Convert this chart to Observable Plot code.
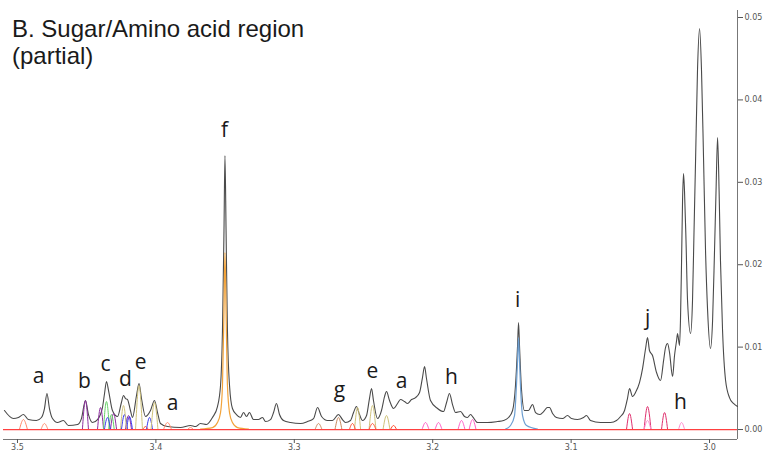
<!DOCTYPE html>
<html>
<head>
<meta charset="utf-8">
<script src="https://cdn.jsdelivr.net/npm/d3@7"></script>
<script src="https://cdn.jsdelivr.net/npm/@observablehq/plot@0.6"></script>
<style>
  html, body { margin: 0; padding: 0; background: #fff; overflow: hidden; }
  #wrap { position: relative; width: 764px; height: 455px; }
  .ttl { position: absolute; left: 12px; font-family: "Liberation Sans", Arial, sans-serif; font-size: 24px; line-height: 24px; color: #1a1a1a; white-space: nowrap; }
</style>
</head>
<body>
<div id="wrap">
  <div id="chart"></div>
  <div class="ttl" style="top:17px">B. Sugar/Amino acid region</div>
  <div class="ttl" style="top:44px">(partial)</div>
</div>
<script>
// chemical shift (ppm) and intensity of the measured spectrum
const specPpm = [3.5094,3.5029,3.4993,3.4957,3.4921,3.4863,3.4827,3.4805,3.4787,3.4769,3.4747,3.4711,3.4668,3.4632,3.4566,3.4538,3.4509,3.4487,3.4458,3.4422,3.4386,3.4371,3.4357,3.4342,3.4314,3.4277,3.4249,3.4234,3.4220,3.4205,3.4184,3.4169,3.4140,3.4122,3.4104,3.4075,3.4039,3.4010,3.3988,3.3967,3.3916,3.3822,3.3750,3.3714,3.3678,3.3634,3.3591,3.3555,3.3533,3.3519,3.3508,3.3501,3.3493,3.3483,3.3468,3.3447,3.3418,3.3389,3.3367,3.3345,3.3324,3.3295,3.3259,3.3230,3.3208,3.3172,3.3150,3.3129,3.3107,3.3078,3.3027,3.2955,3.2905,3.2861,3.2832,3.2803,3.2760,3.2724,3.2681,3.2652,3.2630,3.2594,3.2572,3.2551,3.2529,3.2507,3.2478,3.2457,3.2442,3.2428,3.2399,3.2370,3.2348,3.2334,3.2312,3.2283,3.2254,3.2233,3.2204,3.2182,3.2153,3.2124,3.2095,3.2074,3.2059,3.2045,3.2016,3.1965,3.1922,3.1900,3.1879,3.1857,3.1835,3.1799,3.1770,3.1749,3.1727,3.1712,3.1676,3.1604,3.1532,3.1488,3.1452,3.1423,3.1402,3.1387,3.1380,3.1373,3.1358,3.1337,3.1308,3.1279,3.1257,3.1228,3.1199,3.1171,3.1156,3.1134,3.1106,3.1062,3.1026,3.0997,3.0954,3.0910,3.0889,3.0860,3.0788,3.0715,3.0672,3.0643,3.0614,3.0593,3.0578,3.0556,3.0535,3.0506,3.0484,3.0462,3.0448,3.0434,3.0412,3.0383,3.0354,3.0332,3.0318,3.0303,3.0289,3.0267,3.0253,3.0238,3.0231,3.0217,3.0210,3.0202,3.0195,3.0188,3.0181,3.0170,3.0159,3.0137,3.0123,3.0112,3.0101,3.0087,3.0072,3.0058,3.0043,3.0029,3.0014,2.9993,2.9978,2.9964,2.9953,2.9942,2.9931,2.9921,2.9906,2.9884,2.9856,2.9827,2.9798];
const specIntensity = [0.00231,0.00133,0.00146,0.00182,0.00121,0.00109,0.00146,0.00255,0.00437,0.00255,0.00133,0.00085,0.00109,0.00049,0.00061,0.00133,0.00352,0.00182,0.00085,0.00121,0.00267,0.00437,0.00583,0.00473,0.00231,0.00158,0.00328,0.00413,0.00376,0.00364,0.00231,0.00146,0.00413,0.00558,0.00376,0.00158,0.00231,0.00352,0.00206,0.00073,0.00036,0.00024,0.00049,0.00036,0.00073,0.00061,0.00146,0.00279,0.00534,0.01201,0.02415,0.03325,0.02415,0.01201,0.00534,0.00255,0.00182,0.00146,0.00206,0.00158,0.00206,0.00121,0.00121,0.00146,0.00097,0.00121,0.00206,0.00316,0.00182,0.00109,0.00085,0.00073,0.00097,0.00133,0.00267,0.00158,0.00109,0.00109,0.00182,0.00121,0.00085,0.00109,0.00206,0.00279,0.00182,0.00109,0.0017,0.00376,0.00498,0.00352,0.00133,0.00231,0.004,0.00461,0.00352,0.00255,0.00316,0.00364,0.0034,0.00316,0.00364,0.00388,0.00449,0.00631,0.00765,0.00619,0.00352,0.00255,0.00218,0.00328,0.00437,0.00303,0.00206,0.00218,0.00158,0.00146,0.00182,0.00158,0.00085,0.00085,0.00097,0.00109,0.00146,0.00231,0.00534,0.01019,0.01299,0.01019,0.00473,0.00231,0.00231,0.00303,0.00206,0.00182,0.00218,0.00267,0.00267,0.00194,0.00146,0.00133,0.0017,0.00133,0.00121,0.00146,0.0017,0.00109,0.00085,0.00085,0.00109,0.00158,0.00231,0.00376,0.00498,0.004,0.00449,0.0057,0.0074,0.00983,0.01117,0.00959,0.00898,0.00692,0.00595,0.00837,0.00995,0.01044,0.00934,0.00643,0.00898,0.0108,0.01165,0.01019,0.01323,0.02051,0.02779,0.03107,0.029,0.02294,0.01566,0.01165,0.01566,0.02415,0.03265,0.04357,0.04866,0.04357,0.03265,0.02172,0.01444,0.00983,0.01323,0.02172,0.029,0.03544,0.029,0.02051,0.01201,0.00595,0.00388,0.00316,0.00279];

// fitted component f (orange) and i (light blue)
const fPpm = [3.3678,3.3591,3.3555,3.3533,3.3519,3.3508,3.3501,3.3493,3.3483,3.3468,3.3447,3.3410,3.3331];
const fIntensity = [0.00006,0.00024,0.00085,0.00206,0.00534,0.01444,0.02148,0.01444,0.00534,0.00206,0.00085,0.00024,0.00006];
const iPpm = [3.1474,3.1438,3.1409,3.1395,3.1387,3.1380,3.1373,3.1366,3.1351,3.1322,3.1243];
const iIntensity = [0.00006,0.00049,0.0017,0.00534,0.00837,0.01117,0.00837,0.00534,0.0017,0.00049,0.00006];

// small fitted components: group, centre (ppm), height, half width (ppm)
const compGroup  = ["a","a","a","a","r", "b","b","b","b", "c","c", "d","d","d","d", "e","e","e","e","e","e", "g","g", "r","r","r", "h","h","h","h", "j","j","j", "k","k"];
const compCenter = [3.4957,3.4805,3.3916,3.3750,3.4075, 3.4509,3.4400,3.4306,3.4198, 3.4357,3.4321, 3.4350,3.4227,3.4191,3.4046, 3.4234,3.4122,3.4010,3.2543,3.2435,3.2334, 3.2825,3.2681, 3.2580,3.2435,3.2283, 3.2052,3.1958,3.1792,3.1712, 3.0578,3.0448,3.0325, 3.0448,3.0202];
const compHeight = [0.00121,0.00073,0.00085,0.00024,0.00036, 0.00352,0.00267,0.00194,0.0017, 0.0034,0.00182, 0.00146,0.00182,0.00158,0.00146, 0.00291,0.00534,0.00328,0.00267,0.00291,0.0017, 0.00073,0.00146, 0.00073,0.00073,0.00049, 0.00085,0.00085,0.00109,0.00121, 0.00194,0.00279,0.00206, 0.00109,0.00085];
const compWidth  = [0.0029,0.0025,0.0029,0.0022,0.002, 0.0022,0.0022,0.0022,0.0022, 0.0022,0.002, 0.0022,0.0022,0.0022,0.0022, 0.0022,0.0025,0.0025,0.0022,0.0025,0.0025, 0.0025,0.0025, 0.0022,0.0025,0.0022, 0.0025,0.0025,0.0025,0.0025, 0.0022,0.0025,0.0022, 0.0025,0.0022];

// peak labels
const labelText = ["a","b","c","d","e","a","f","g","e","a","h","i","j","h"];
const labelPpm  = [3.4848,3.4516,3.4364,3.4220,3.4111,3.3880,3.3504,3.2673,3.2435,3.2225,3.1864,3.1387,3.0448,3.0210];
const labelY    = [0.00643,0.00583,0.00789,0.00607,0.00813,0.00316,0.03629,0.00473,0.00704,0.00583,0.00631,0.01566,0.01347,0.00328];

const xTicks = [3.5, 3.4, 3.3, 3.2, 3.1, 3.0];
const yTicks = [0, 0.01, 0.02, 0.03, 0.04, 0.05];

const xDomain = [3.5101, 2.9798];
const yDomain = [-0.00121, 0.05085];

const spectrum = specPpm.map((p, i) => ({ppm: p, v: specIntensity[i]}));
const fPeak = fPpm.map((p, i) => ({ppm: p, v: fIntensity[i]}));
const iPeak = iPpm.map((p, i) => ({ppm: p, v: iIntensity[i]}));
const comps = compGroup.flatMap((g, i) => [
  {id: i, g, ppm: compCenter[i] + compWidth[i], v: 0},
  {id: i, g, ppm: compCenter[i], v: compHeight[i]},
  {id: i, g, ppm: compCenter[i] - compWidth[i], v: 0}
]);
const labels = labelText.map((t, i) => ({t, ppm: labelPpm[i], v: labelY[i]}));

const hasAxisMarks = typeof Plot.axisY === "function" && typeof Plot.axisX === "function";
const axisMarks = hasAxisMarks ? [
  Plot.axisY({anchor: "right", ticks: yTicks, tickFormat: d3.format(".2f"), tickSize: 5, tickPadding: 2, fontSize: 8, label: null}),
  Plot.axisX({anchor: "bottom", ticks: xTicks, tickFormat: d3.format(".1f"), tickSize: 4, tickPadding: 1, fontSize: 8, label: null})
] : [];

const chart = Plot.plot({
  width: 764,
  height: 455,
  marginLeft: 3,
  marginRight: 27,
  marginTop: 10,
  marginBottom: 16,
  style: {fontFamily: "DejaVu Sans, sans-serif", fontSize: "8px", color: "#555", background: "#fff"},
  x: hasAxisMarks
    ? {domain: xDomain, axis: null}
    : {domain: xDomain, ticks: xTicks, tickFormat: d3.format(".1f"), tickSize: 4, tickPadding: 1, label: null},
  y: hasAxisMarks
    ? {domain: yDomain, axis: null}
    : {domain: yDomain, axis: "right", ticks: yTicks, tickFormat: d3.format(".2f"), tickSize: 5, tickPadding: 2, label: null},
  color: {domain: ["a","b","c","d","e","g","r","h","j","k"],
          range: ["#ff8a6a","#8e2fa0","#66d066","#3c3cf0","#cfc27a","#c8875a","#ff4a2a","#ff5fc8","#e0306e","#ff8ad0"]},
  marks: [
    Plot.ruleY([yDomain[0]], {stroke: "#777", strokeWidth: 1}),
    Plot.ruleX([xDomain[1]], {stroke: "#777", strokeWidth: 1}),
    ...axisMarks,
    Plot.line(spectrum, {x: "ppm", y: "v", stroke: "#4a4a4a", strokeWidth: 1.1, curve: "monotone-x"}),
    Plot.line(comps, {x: "ppm", y: "v", z: "id", stroke: "g", strokeWidth: 1, curve: "monotone-x"}),
    Plot.line(fPeak, {x: "ppm", y: "v", stroke: "#f2a33a", strokeWidth: 1.2, curve: "monotone-x"}),
    Plot.line(iPeak, {x: "ppm", y: "v", stroke: "#6d9fd2", strokeWidth: 1.2, curve: "monotone-x"}),
    Plot.ruleY([0], {stroke: "#ff4040", strokeWidth: 1.2}),
    Plot.text(labels, {x: "ppm", y: "v", text: "t", fontSize: 21, fill: "#1a1a1a", fontFamily: "Open Sans, sans-serif"})
  ]
});
document.getElementById("chart").appendChild(chart);
</script>
</body>
</html>
